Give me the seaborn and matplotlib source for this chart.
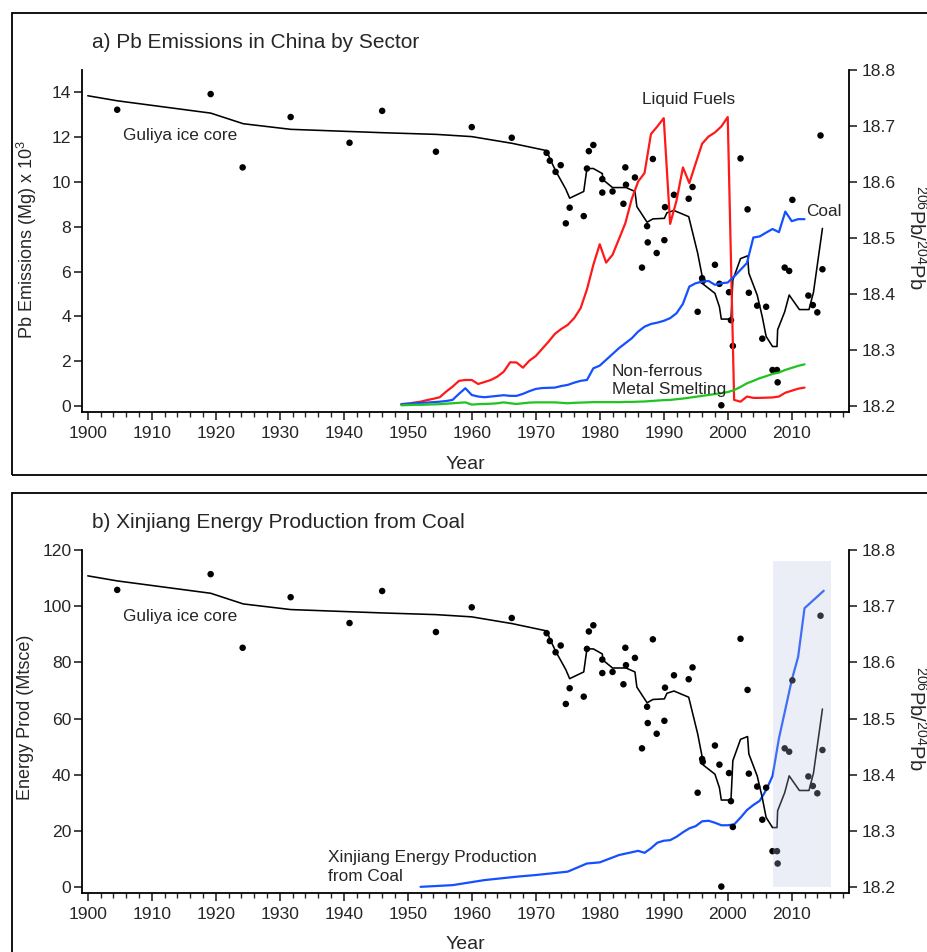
import numpy as np
import matplotlib
matplotlib.use("Agg")
import matplotlib.pyplot as plt
from matplotlib.patches import Rectangle
import seaborn as sns

# ---------------- data ----------------
ice_years = [1904.6, 1919.2, 1924.2, 1931.7, 1940.9, 1946.0, 1954.4, 1960.0, 1966.25,
             1971.7, 1972.2, 1973.1, 1973.9, 1974.7, 1975.3, 1977.5, 1978.0, 1978.3, 1979.0,
             1980.4, 1980.4, 1982.0, 1983.7, 1984.0, 1984.1, 1985.5, 1986.6, 1987.4, 1987.5,
             1988.3, 1988.9, 1990.1, 1990.2, 1991.6, 1993.9, 1994.5, 1995.3, 1996.0, 1996.1,
             1998.0, 1998.7, 1999.0, 2000.2, 2000.5, 2000.8, 2002.0, 2003.1, 2003.3, 2004.6,
             2005.4, 2006.0, 2007.0, 2007.7, 2007.8, 2008.9, 2009.6, 2010.1, 2012.6, 2013.3,
             2014.0, 2014.5, 2014.8]
ice_ratio = [18.729, 18.757, 18.626, 18.716, 18.670, 18.727, 18.654, 18.698, 18.679,
             18.652, 18.638, 18.618, 18.630, 18.526, 18.554, 18.539, 18.624, 18.655, 18.666,
             18.605, 18.581, 18.583, 18.561, 18.626, 18.595, 18.608, 18.447, 18.521, 18.492,
             18.641, 18.473, 18.496, 18.555, 18.577, 18.570, 18.591, 18.368, 18.428, 18.423,
             18.452, 18.418, 18.201, 18.403, 18.353, 18.307, 18.642, 18.551, 18.402, 18.379,
             18.320, 18.377, 18.264, 18.264, 18.242, 18.447, 18.441, 18.568, 18.397, 18.380,
             18.367, 18.683, 18.444]

smooth_years = [1900.0, 1904.6, 1919.2, 1924.3, 1931.7, 1946.0, 1954.4, 1960.0, 1966.3,
                1971.7, 1972.2, 1973.1, 1974.7, 1975.3, 1977.5, 1978.0, 1979.0, 1980.4,
                1980.5, 1982.0, 1984.1, 1985.5, 1985.8, 1987.4, 1988.3, 1990.1, 1990.5,
                1991.6, 1993.9, 1995.3, 1996.0, 1996.1, 1998.0, 1998.7, 1999.0, 2000.2,
                2000.5, 2000.8, 2002.0, 2003.1, 2003.3, 2004.6, 2005.4, 2006.0, 2007.0,
                2007.7, 2007.8, 2008.9, 2009.6, 2011.2, 2012.7, 2013.4, 2014.8]
smooth_ratio = [18.754, 18.745, 18.723, 18.704, 18.694, 18.688, 18.685, 18.681, 18.669,
                18.656, 18.642, 18.620, 18.587, 18.571, 18.583, 18.624, 18.624, 18.615,
                18.604, 18.590, 18.590, 18.583, 18.556, 18.528, 18.534, 18.535, 18.545,
                18.549, 18.538, 18.473, 18.432, 18.418, 18.401, 18.377, 18.355, 18.355,
                18.353, 18.425, 18.463, 18.468, 18.437, 18.398, 18.359, 18.324, 18.306,
                18.306, 18.336, 18.368, 18.398, 18.372, 18.372, 18.403, 18.517]

sector_years = list(range(1949, 2013))
liquid_fuels = [0.08, 0.10, 0.15, 0.19, 0.26, 0.32, 0.39, 0.64, 0.86, 1.12,
                1.16, 1.16, 0.98, 1.07, 1.16, 1.31, 1.53, 1.95, 1.94, 1.71,
                2.02, 2.23, 2.55, 2.87, 3.22, 3.44, 3.62, 3.92, 4.36, 5.20,
                6.30, 7.22, 6.40, 6.75, 7.45, 8.16, 9.24, 10.02, 10.40, 12.14,
                12.48, 12.85, 8.13, 9.17, 10.65, 9.95, 10.84, 11.71, 12.03, 12.21,
                12.48, 12.90, 0.27, 0.19, 0.42, 0.36, 0.36, 0.37, 0.38, 0.42,
                0.59, 0.68, 0.77, 0.82]
coal = [0.08, 0.10, 0.12, 0.14, 0.15, 0.17, 0.19, 0.22, 0.27, 0.54,
        0.79, 0.49, 0.42, 0.39, 0.42, 0.45, 0.48, 0.45, 0.45, 0.54,
        0.66, 0.76, 0.80, 0.81, 0.82, 0.89, 0.94, 1.04, 1.12, 1.16,
        1.68, 1.80, 2.06, 2.32, 2.58, 2.80, 3.02, 3.32, 3.54, 3.66,
        3.72, 3.80, 3.92, 4.14, 4.56, 5.33, 5.48, 5.55, 5.58, 5.41,
        5.48, 5.51, 5.78, 6.08, 6.38, 7.52, 7.57, 7.74, 7.90, 7.76,
        8.68, 8.25, 8.34, 8.34]
smelting = [0.03, 0.04, 0.05, 0.05, 0.06, 0.07, 0.08, 0.10, 0.12, 0.14,
            0.16, 0.06, 0.08, 0.09, 0.10, 0.12, 0.16, 0.12, 0.09, 0.12,
            0.15, 0.16, 0.16, 0.16, 0.16, 0.14, 0.12, 0.14, 0.15, 0.16,
            0.17, 0.17, 0.17, 0.17, 0.17, 0.18, 0.18, 0.19, 0.20, 0.22,
            0.24, 0.26, 0.27, 0.30, 0.33, 0.37, 0.41, 0.45, 0.49, 0.53,
            0.57, 0.62, 0.71, 0.85, 1.01, 1.12, 1.24, 1.33, 1.43, 1.49,
            1.61, 1.70, 1.79, 1.86]

xj_years = [1952, 1957, 1962, 1967, 1970, 1975, 1978, 1980, 1983, 1986, 1987, 1988,
            1989, 1990, 1991, 1992, 1993, 1994, 1995, 1996, 1997, 1998, 1999, 2000,
            2001, 2002, 2003, 2004, 2005, 2006, 2007, 2008, 2009, 2010, 2011, 2012, 2015]
xj_energy = [0.2, 0.8, 2.6, 3.8, 4.4, 5.6, 8.5, 8.9, 11.5, 13.0, 12.3, 13.9,
             15.9, 16.6, 16.8, 18.0, 19.6, 21.0, 21.8, 23.5, 23.7, 23.0, 22.1, 22.1,
             22.4, 24.8, 27.5, 29.3, 30.8, 34.6, 39.6, 53.0, 63.3, 73.7, 82.0, 99.3, 105.5]

year_ticks = list(range(1900, 2011, 10))
ratio_ticks = [18.2, 18.3, 18.4, 18.5, 18.6, 18.7, 18.8]
ratio_labels = ['18.2', '18.3', '18.4', '18.5', '18.6', '18.7', '18.8']

# ---------------- style ----------------
sns.set_style("ticks")
plt.rcParams['font.family'] = ['Liberation Sans', 'DejaVu Sans']
plt.rcParams['mathtext.fontset'] = 'custom'
plt.rcParams['mathtext.rm'] = 'Liberation Sans'
plt.rcParams['mathtext.it'] = 'Liberation Sans:italic'
plt.rcParams['mathtext.bf'] = 'Liberation Sans:bold'

W, H = 928, 952
fig = plt.figure(figsize=(W / 100, H / 100), dpi=100)

def px_axes(x0, y0, x1, y1):
    return [x0 / W, 1 - y1 / H, (x1 - x0) / W, (y1 - y0) / H]

RED = '#ff1a1a'
BLUE = '#1450ff'
GREEN = '#1fc41f'
TXT = 12.4

def style_axes(ax, axr, ylim, yticks, ylabel, ylabel_x, ylabel_y):
    ax.set_xlim(1899.05, 2018.95)
    ax.set_ylim(*ylim)
    axr.set_ylim(18.189, 18.8)
    ax.set_xticks(year_ticks)
    ax.set_xticks(list(range(1900, 2019, 2)), minor=True)
    ax.set_yticks(yticks)
    axr.set_yticks(ratio_ticks)
    axr.set_yticklabels(ratio_labels)
    for s in ['top', 'right']:
        ax.spines[s].set_visible(False)
    for s in ['top', 'left', 'bottom']:
        axr.spines[s].set_visible(False)
    for a in (ax, axr):
        for s in a.spines.values():
            s.set_linewidth(1.3)
            s.set_color('black')
    ax.tick_params(axis='x', which='major', length=6, width=1.2, pad=4, labelsize=12.6, direction='out')
    ax.tick_params(axis='x', which='minor', length=3.5, width=1.0, direction='out')
    ax.tick_params(axis='y', which='major', length=5.5, width=1.2, pad=2, labelsize=12.6, direction='out')
    axr.tick_params(axis='y', which='major', length=5.5, width=1.2, pad=3.5, labelsize=12.6, direction='out')
    ax.set_xlabel('Year', fontsize=14)
    ax.set_ylabel(ylabel, fontsize=13)
    ax.yaxis.set_label_coords(ylabel_x, ylabel_y)
    axr.set_ylabel(r'$^{206}$Pb/$^{204}$Pb', fontsize=14.5, rotation=270, va='center')
    axr.yaxis.set_label_coords(1.088, 0.51)
    ax.patch.set_visible(False)

# ---------------- panel a ----------------
ax1 = fig.add_axes(px_axes(81.7, 70, 849, 412))
ax1r = ax1.twinx()
ax1.set_zorder(2)
ax1r.set_zorder(1)

sns.lineplot(x=sector_years, y=liquid_fuels, ax=ax1, color=RED, lw=1.6, estimator=None, sort=False)
sns.lineplot(x=sector_years, y=coal, ax=ax1, color=BLUE, lw=1.6, estimator=None, sort=False)
sns.lineplot(x=sector_years, y=smelting, ax=ax1, color=GREEN, lw=1.6, estimator=None, sort=False)
sns.lineplot(x=smooth_years, y=smooth_ratio, ax=ax1r, color='black', lw=1.15, estimator=None, sort=False)
sns.scatterplot(x=ice_years, y=ice_ratio, ax=ax1r, color='black', s=22, edgecolor='none', linewidth=0)

style_axes(ax1, ax1r, (-0.27, 15.0), [0, 2, 4, 6, 8, 10, 12, 14],
           r'Pb Emissions (Mg) x 10$^{3}$', -0.056, 0.505)
ax1.xaxis.set_label_coords(0.5, -0.13)

ax1.text(1905.5, 12.06, 'Guliya ice core', fontsize=TXT, va='center', ha='left')
ax1.text(1986.65, 13.67, 'Liquid Fuels', fontsize=TXT, va='center', ha='left')
ax1.text(2012.2, 8.68, 'Coal', fontsize=TXT, va='center', ha='left')
ax1.text(1981.9, 1.14, 'Non-ferrous\nMetal Smelting', fontsize=TXT, va='center', ha='left',
         linespacing=1.3)

fig.text(92 / W, 1 - 43 / H, 'a) Pb Emissions in China by Sector', fontsize=15,
         ha='left', va='center')

# ---------------- panel b ----------------
ax2 = fig.add_axes(px_axes(81.7, 550, 849, 893.3))
ax2r = ax2.twinx()
ax2.set_zorder(1)
ax2r.set_zorder(2)

sns.lineplot(x=xj_years, y=xj_energy, ax=ax2, color=BLUE, lw=1.6, estimator=None, sort=False)
sns.lineplot(x=smooth_years, y=smooth_ratio, ax=ax2r, color='black', lw=1.15, estimator=None, sort=False)
sns.scatterplot(x=ice_years, y=ice_ratio, ax=ax2r, color='black', s=22, edgecolor='none', linewidth=0)

style_axes(ax2, ax2r, (-2.1, 120), [0, 20, 40, 60, 80, 100, 120],
           'Energy Prod (Mtsce)', -0.0625, 0.512)
ax2.xaxis.set_label_coords(0.5, -0.125)
ax2.patch.set_visible(True)
ax2.patch.set_facecolor('white')
ax2r.patch.set_visible(False)

ax2r.add_patch(Rectangle((2007.0, 18.2), 9.1, 0.58, facecolor=(0.72, 0.76, 0.87),
                         alpha=0.27, edgecolor='none', zorder=10))

ax2.text(1905.5, 96.3, 'Guliya ice core', fontsize=TXT, va='center', ha='left')
ax2.text(1937.55, 7.3, 'Xinjiang Energy Production\nfrom Coal', fontsize=TXT,
         va='center', ha='left', linespacing=1.3)

fig.text(92 / W, 1 - 523 / H, 'b) Xinjiang Energy Production from Coal', fontsize=15,
         ha='left', va='center')

# ---------------- panel frames ----------------
fig.patches.append(Rectangle((11.7 / W, 1 - 475 / H), (945 - 11.7) / W, (475 - 12.7) / H,
                             transform=fig.transFigure, fill=False, lw=1.3,
                             edgecolor='black'))
fig.patches.append(Rectangle((11.7 / W, -0.05), (945 - 11.7) / W, 1 - 492.7 / H + 0.05,
                             transform=fig.transFigure, fill=False, lw=1.3,
                             edgecolor='black'))

fig.savefig('out.png', dpi=100)
